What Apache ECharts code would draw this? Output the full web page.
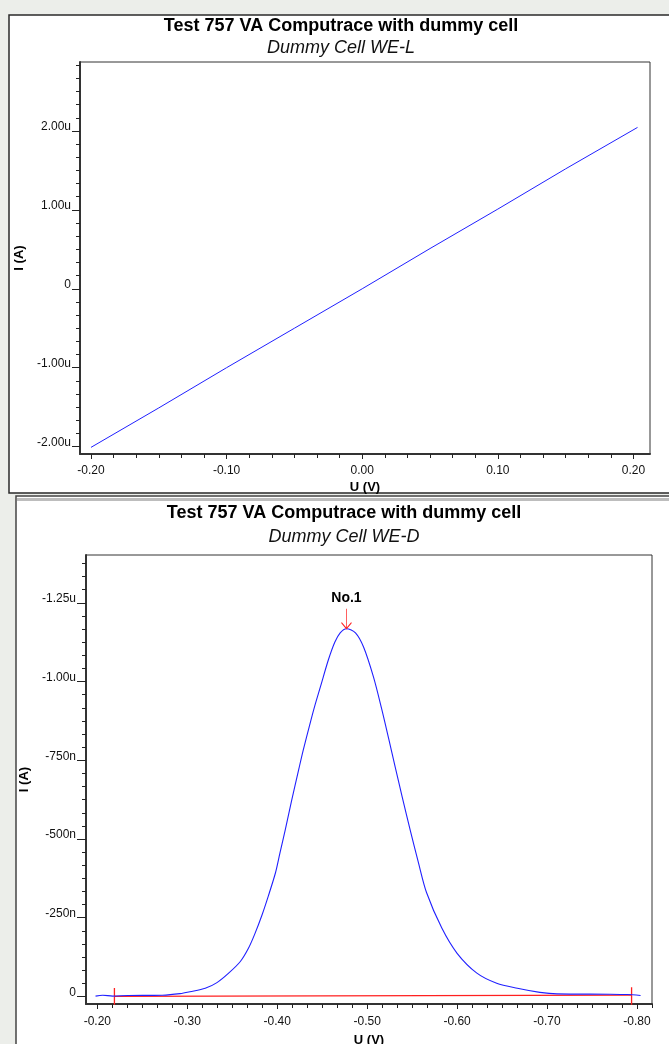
<!DOCTYPE html>
<html>
<head>
<meta charset="utf-8">
<script src="https://cdn.jsdelivr.net/npm/echarts@6/dist/echarts.min.js"></script>
<style>
html, body { margin: 0; padding: 0; background: #eceeea; }
#chart { width: 669px; height: 1044px; }
</style>
</head>
<body>
<div id="chart"></div>
<script>
const chart = echarts.init(document.getElementById('chart'));

// WE-L: U (V) vs I (uA)
const weL_U = [-0.200, -0.150, -0.100, -0.050, 0.000, 0.050, 0.100, 0.150, 0.203];
const weL_I = [-2.01, -1.51, -1.00, -0.50, 0.00, 0.51, 1.01, 1.52, 2.045];

// WE-D: U (V) vs I (nA)
const weD_U = [-0.198, -0.206, -0.217, -0.234, -0.272, -0.292, -0.303, -0.320, -0.333, -0.346,
    -0.359, -0.368, -0.375, -0.383, -0.390, -0.398, -0.403, -0.409, -0.416, -0.424,
    -0.429, -0.437, -0.442, -0.448, -0.457, -0.464, -0.470, -0.477, -0.487, -0.496,
    -0.507, -0.516, -0.524, -0.531, -0.539, -0.548, -0.557, -0.566, -0.583, -0.600,
    -0.622, -0.644, -0.667, -0.692, -0.711, -0.770, -0.789, -0.804];
const weD_I = [-1, -4, -1, -3, -4, -9, -15, -26, -44, -74,
    -111, -153, -198, -258, -318, -392, -455, -530, -622, -722,
    -783, -872, -925, -983, -1070, -1125, -1155, -1168, -1155, -1110,
    -1015, -915, -818, -731, -633, -527, -425, -330, -217, -137,
    -74, -42, -26, -13, -8, -7, -6, -3];

// peak baseline and its end markers
const baseD_U = [-0.219, -0.794];
const baseD_I = [0, -4];
const markLeft = [[-0.219, -27], [-0.219, 27]];
const markRight = [[-0.794, -29], [-0.794, 27]];
const peakD = [-0.477, -1168];
const peakName = 'No.1';

// ticks
const xTicksL = [-0.2, -0.1, 0, 0.1, 0.2];
const xLabelsL = ['-0.20', '-0.10', '0.00', '0.10', '0.20'];
const yTicksL = [-2, -1, 0, 1, 2];
const yLabelsL = ['-2.00u', '-1.00u', '0', '1.00u', '2.00u'];
const xTicksD = [-0.2, -0.3, -0.4, -0.5, -0.6, -0.7, -0.8];
const xLabelsD = ['-0.20', '-0.30', '-0.40', '-0.50', '-0.60', '-0.70', '-0.80'];
const yTicksD = [0, -250, -500, -750, -1000, -1250];
const yLabelsD = ['0', '-250n', '-500n', '-750n', '-1.00u', '-1.25u'];

const FONT = '"Liberation Sans", Arial, sans-serif';

function zip(a, b) {
    return a.map((v, i) => [v, b[i]]);
}

// 6 minor divisions per major step
function minors(majors, lo, hi) {
    const step = Math.abs(majors[1] - majors[0]) / 6;
    const base = majors[0];
    const out = [];
    const k0 = Math.ceil((lo - base) / step - 1e-6),
        k1 = Math.floor((hi - base) / step + 1e-6);
    for (let k = k0; k <= k1; k++) {
        if (k % 6 !== 0) out.push(base + k * step);
    }
    return out;
}

function axisPair(dim, grid, lo, hi, majors, labels, o) {
    const fmt = function (v) {
        const i = majors.findIndex(m => Math.abs(m - v) < 1e-7);
        return i < 0 ? '' : labels[i];
    };
    const base = {
        type: 'value',
        gridIndex: grid,
        min: lo,
        max: hi,
        inverse: !!o.inverse,
        position: dim === 'x' ? 'bottom' : 'left',
        offset: 0,
        splitLine: { show: false }
    };
    const main = Object.assign({}, base, {
        name: o.name,
        nameLocation: 'middle',
        nameGap: o.gap,
        nameRotate: dim === 'y' ? 90 : 0,
        nameTextStyle: { fontFamily: FONT, fontWeight: 'bold', fontSize: 13, color: '#000' },
        axisLine: { show: true, onZero: false, lineStyle: { color: '#333', width: 2 } },
        axisTick: { show: true, customValues: majors, length: o.major, lineStyle: { color: '#222', width: 1 } },
        axisLabel: {
            customValues: majors,
            formatter: fmt,
            margin: o.margin,
            fontFamily: FONT,
            fontSize: 12,
            color: '#111',
            lineHeight: dim === 'y' ? 8 : 14,
            verticalAlign: dim === 'y' ? 'bottom' : 'top'
        }
    });
    const minor = Object.assign({}, base, {
        axisLine: { show: false, onZero: false },
        axisTick: { show: true, customValues: minors(majors, lo, hi), length: o.minor, lineStyle: { color: '#222', width: 1 } },
        axisLabel: { show: false }
    });
    return [main, minor];
}

const xL = axisPair('x', 0, -0.2081, 0.2122, xTicksL, xLabelsL, { name: 'U (V)', gap: 27, major: 5, minor: 4, margin: 10 });
const yL = axisPair('y', 0, -2.094, 2.874, yTicksL, yLabelsL, { name: 'I (A)', gap: 48, major: 8, minor: 4, margin: 9 });
const xD = axisPair('x', 1, -0.8167, -0.1874, xTicksD, xLabelsD, { name: 'U (V)', gap: 30, major: 5, minor: 4, margin: 11, inverse: true });
const yD = axisPair('y', 1, -1402, 24, yTicksD, yLabelsD, { name: 'I (A)', gap: 52, major: 9, minor: 4, margin: 10, inverse: true });

const option = {
    animation: false,
    backgroundColor: '#eceeea',
    graphic: [
        { type: 'rect', z: -100, shape: { x: 9, y: 15, width: 700, height: 478 }, style: { fill: '#fff', stroke: '#2a2a2a', lineWidth: 1.5 } },
        { type: 'rect', z: -100, shape: { x: 16, y: 496, width: 700, height: 600 }, style: { fill: '#fff', stroke: '#444', lineWidth: 1.5 } },
        { type: 'rect', z: -99, shape: { x: 17, y: 498, width: 700, height: 3 }, style: { fill: '#bdbdbd' } },
        { type: 'text', z: 100, style: { text: 'Test 757 VA Computrace with dummy cell', x: 341, y: 26, textAlign: 'center', textVerticalAlign: 'middle', font: 'bold 18px ' + FONT, fill: '#000' } },
        { type: 'text', z: 100, style: { text: 'Dummy Cell WE-L', x: 341, y: 48, textAlign: 'center', textVerticalAlign: 'middle', font: 'italic 18px ' + FONT, fill: '#111' } },
        { type: 'text', z: 100, style: { text: 'Test 757 VA Computrace with dummy cell', x: 344, y: 513, textAlign: 'center', textVerticalAlign: 'middle', font: 'bold 18px ' + FONT, fill: '#000' } },
        { type: 'text', z: 100, style: { text: 'Dummy Cell WE-D', x: 344, y: 537, textAlign: 'center', textVerticalAlign: 'middle', font: 'italic 18px ' + FONT, fill: '#111' } }
    ],
    grid: [{
        left: 80, top: 62, width: 570, height: 392,
        outerBoundsMode: 'none',
        show: true, backgroundColor: '#fff', borderColor: '#333', borderWidth: 1
    }, {
        left: 86, top: 555, width: 566, height: 449,
        outerBoundsMode: 'none',
        show: true, backgroundColor: '#fff', borderColor: '#333', borderWidth: 1
    }],
    xAxis: xL.concat(xD),
    yAxis: yL.concat(yD),
    series: [{
        name: 'WE-L',
        type: 'line',
        xAxisIndex: 0,
        yAxisIndex: 0,
        showSymbol: false,
        data: zip(weL_U, weL_I),
        lineStyle: { color: '#2020ff', width: 1 }
    }, {
        name: 'baseline',
        type: 'line',
        xAxisIndex: 2,
        yAxisIndex: 2,
        showSymbol: false,
        data: zip(baseD_U, baseD_I),
        lineStyle: { color: '#ff2020', width: 1.3 }
    }, {
        name: 'mark1',
        type: 'line',
        xAxisIndex: 2,
        yAxisIndex: 2,
        showSymbol: false,
        data: markLeft,
        lineStyle: { color: '#ff2020', width: 1.3 }
    }, {
        name: 'mark2',
        type: 'line',
        xAxisIndex: 2,
        yAxisIndex: 2,
        showSymbol: false,
        data: markRight,
        lineStyle: { color: '#ff2020', width: 1.3 }
    }, {
        name: 'WE-D',
        type: 'line',
        xAxisIndex: 2,
        yAxisIndex: 2,
        showSymbol: false,
        smooth: 0.3,
        data: zip(weD_U, weD_I),
        lineStyle: { color: '#2020ff', width: 1.1 },
        markPoint: {
            symbol: 'path://M5,0 L5,20 M0,14 L5,20 L10,14',
            symbolSize: [10, 20],
            symbolOffset: [0, -10],
            itemStyle: { color: 'rgba(0,0,0,0)', borderColor: '#ff2020', borderWidth: 1 },
            label: {
                show: true,
                position: 'top',
                distance: 3,
                formatter: peakName,
                color: '#000',
                fontFamily: FONT,
                fontWeight: 'bold',
                fontSize: 14
            },
            data: [{ coord: peakD }]
        }
    }]
};

chart.setOption(option);
</script>
</body>
</html>
